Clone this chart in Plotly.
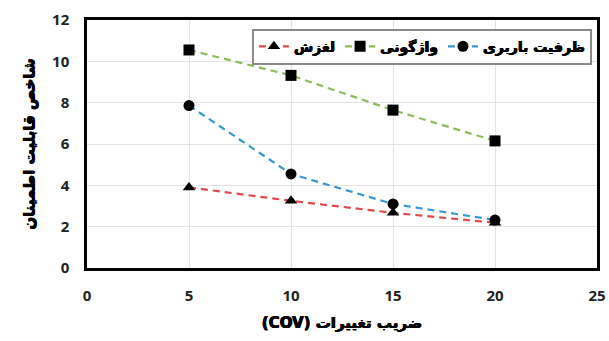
import plotly.graph_objects as go

cov = [5, 10, 15, 20]
sliding = [3.9, 3.25, 2.67, 2.19]          # لغزش
overturning = [10.55, 9.32, 7.64, 6.15]    # واژگونی
bearing = [7.86, 4.55, 3.1, 2.32]          # ظرفیت باربری

x_ticks = [0, 5, 10, 15, 20, 25]
y_ticks = [0, 2, 4, 6, 8, 10, 12]

series = [
    ("لغزش", sliding, "#e2474b", "triangle-up"),
    ("واژگونی", overturning, "#8dbd5b", "square"),
    ("ظرفیت باربری", bearing, "#3598d3", "circle"),
]

fig = go.Figure()
for name, vals, color, sym in series:
    fig.add_trace(go.Scatter(
        x=cov, y=vals, name=name, mode="lines+markers",
        line=dict(color=color, width=2.2, dash="7px,5px"),
        marker=dict(symbol=sym, size=11, color="black"),
    ))

arabic_font = "DejaVu Sans"
num_font = "Open Sans"
# faux-bold for the Persian labels
heavy = "0.45px 0 0 black, -0.45px 0 0 black, 0 0.35px 0 black"

fig.update_layout(
    width=609, height=341,
    margin=dict(l=87, r=12, t=20, b=73),
    paper_bgcolor="white", plot_bgcolor="white",
    showlegend=True,
    legend=dict(
        orientation="h", x=0.99, xanchor="right", y=0.965, yanchor="top",
        bgcolor="white", bordercolor="#8a8a8a", borderwidth=2,
        font=dict(family=arabic_font, size=14, color="black", weight="bold", shadow=heavy),
        traceorder="normal", itemwidth=30,
    ),
    xaxis=dict(
        range=[0, 25], tickvals=x_ticks, ticktext=[str(v) for v in x_ticks],
        showgrid=True, gridcolor="#e3e3e3", gridwidth=1, automargin=False,
        zeroline=False, showline=True, linecolor="black", linewidth=2.5, mirror=True,
        ticks="", ticklabelstandoff=12,
        tickfont=dict(family=num_font, size=15, color="#222", weight="bold"),
        title=dict(text="(COV) ضریب تغییرات", standoff=14,
                   font=dict(family=arabic_font, size=15, color="black", weight="bold", shadow=heavy)),
    ),
    yaxis=dict(
        range=[0, 12], tickvals=y_ticks, ticktext=[str(v) for v in y_ticks],
        showgrid=True, gridcolor="#e3e3e3", gridwidth=1, automargin=False,
        zeroline=False, showline=True, linecolor="black", linewidth=2.5, mirror=True,
        ticks="", ticklabelstandoff=12,
        tickfont=dict(family=num_font, size=15, color="#222", weight="bold"),
        title=dict(text="شاخص قابلیت اطمینان", standoff=14,
                   font=dict(family=arabic_font, size=15, color="black", weight="bold", shadow=heavy)),
    ),
)

fig.write_html("out.html")
